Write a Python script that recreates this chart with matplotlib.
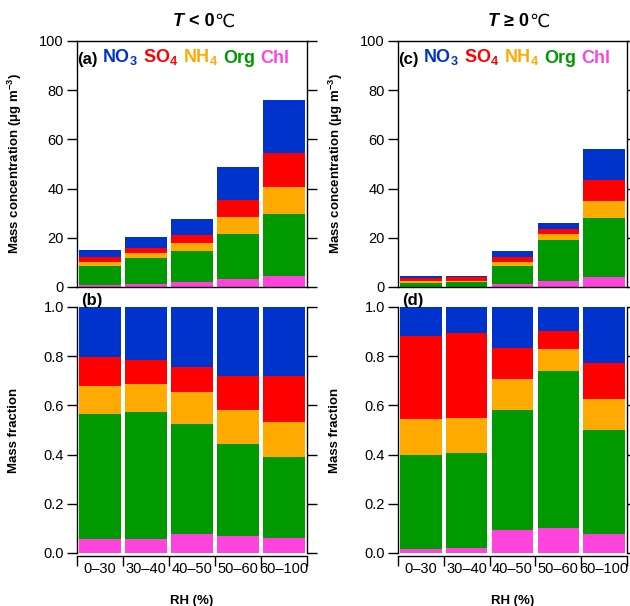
import matplotlib
matplotlib.use("Agg")
import matplotlib.pyplot as plt
import numpy as np

plt.rcParams['font.family'] = ['Liberation Sans', 'DejaVu Sans']
plt.rcParams['mathtext.fontset'] = 'custom'
plt.rcParams['mathtext.rm'] = 'Liberation Sans'
plt.rcParams['mathtext.bf'] = 'Liberation Sans:bold'
plt.rcParams['mathtext.it'] = 'Liberation Sans:italic'

categories = ["0\u201330", "30\u201340", "40\u201350", "50\u201360", "60\u2013100"]
species = ["Chl", "Org", "NH4", "SO4", "NO3"]  # bottom to top
colors = {"NO3": "#0033CC", "SO4": "#FF0000", "NH4": "#FFAA00", "Org": "#009900", "Chl": "#FF44DD"}

# Mass concentration (ug m-3), T < 0 C
cold_Chl = [0.7, 1.2, 2.2, 3.4, 4.5]
cold_Org = [8.0, 10.5, 12.4, 18.3, 25.2]
cold_NH4 = [1.5, 2.3, 3.4, 6.8, 11.0]
cold_SO4 = [1.9, 2.0, 3.0, 6.7, 13.9]
cold_NO3 = [2.9, 4.2, 6.6, 13.4, 21.4]

# Mass concentration, T >= 0 C
warm_Chl = [0.08, 0.10, 1.35, 2.4, 4.2]
warm_Org = [1.64, 1.76, 7.35, 16.8, 23.7]
warm_NH4 = [0.62, 0.67, 1.6, 2.3, 7.2]
warm_SO4 = [1.46, 1.60, 1.9, 1.9, 8.4]
warm_NO3 = [0.50, 0.47, 2.4, 2.5, 12.6]

# Mass fraction, T < 0 C
coldf_Chl = [0.058, 0.058, 0.079, 0.068, 0.060]
coldf_Org = [0.506, 0.515, 0.447, 0.375, 0.332]
coldf_NH4 = [0.115, 0.114, 0.127, 0.138, 0.142]
coldf_SO4 = [0.119, 0.098, 0.104, 0.139, 0.186]
coldf_NO3 = [0.202, 0.215, 0.243, 0.280, 0.280]

# Mass fraction, T >= 0 C
warmf_Chl = [0.018, 0.022, 0.095, 0.102, 0.077]
warmf_Org = [0.380, 0.383, 0.488, 0.639, 0.422]
warmf_NH4 = [0.145, 0.145, 0.123, 0.088, 0.126]
warmf_SO4 = [0.340, 0.346, 0.129, 0.075, 0.149]
warmf_NO3 = [0.117, 0.104, 0.165, 0.096, 0.226]

cold = {"Chl": cold_Chl, "Org": cold_Org, "NH4": cold_NH4, "SO4": cold_SO4, "NO3": cold_NO3}
warm = {"Chl": warm_Chl, "Org": warm_Org, "NH4": warm_NH4, "SO4": warm_SO4, "NO3": warm_NO3}
coldf = {"Chl": coldf_Chl, "Org": coldf_Org, "NH4": coldf_NH4, "SO4": coldf_SO4, "NO3": coldf_NO3}
warmf = {"Chl": warmf_Chl, "Org": warmf_Org, "NH4": warmf_NH4, "SO4": warmf_SO4, "NO3": warmf_NO3}

W, H = 630, 606
fig = plt.figure(figsize=(W / 100, H / 100), dpi=100)

def rect(l, r, t, b):
    return [l / W, 1 - b / H, (r - l) / W, (b - t) / H]

axA = fig.add_axes(rect(77, 307, 41, 287))
axB = fig.add_axes(rect(77, 307, 307, 553))
axC = fig.add_axes(rect(398, 627, 41, 287))
axD = fig.add_axes(rect(398, 627, 307, 553))

x = np.arange(len(categories))

def stack(ax, data):
    bottom = np.zeros(len(categories))
    for sp in species:
        vals = np.array(data[sp], dtype=float)
        ax.bar(x, vals, bottom=bottom, width=0.9, color=colors[sp], linewidth=0)
        bottom += vals

TICK_FS = 10.5
TLEN = 7.5
for ax, data in [(axA, cold), (axC, warm)]:
    stack(ax, data)
    ax.set_xlim(-0.5, 4.5)
    ax.set_ylim(0, 100)
    ax.set_yticks([0, 20, 40, 60, 80, 100])
    ax.tick_params(axis='y', which='major', direction='out', length=TLEN, width=1,
                   left=True, right=True, labelsize=TICK_FS, pad=2)
    ax.tick_params(axis='x', bottom=False, labelbottom=False)
    for s in ax.spines.values():
        s.set_linewidth(1)
    ax.set_ylabel("Mass concentration (\u03bcg m$^{\\mathbf{-3}}$)", fontsize=9.5, fontweight='bold')
    ax.yaxis.set_label_coords(-(77 - 24) / 230, 0.5)

for ax, data in [(axB, coldf), (axD, warmf)]:
    stack(ax, data)
    ax.set_xlim(-0.5, 4.5)
    ax.set_ylim(0, 1.0)
    ax.set_yticks([0.0, 0.2, 0.4, 0.6, 0.8, 1.0])
    ax.set_yticklabels(["%.1f" % v for v in [0.0, 0.2, 0.4, 0.6, 0.8, 1.0]])
    ax.tick_params(axis='y', which='major', direction='out', length=TLEN, width=1,
                   left=True, right=True, labelsize=TICK_FS, pad=2)
    ax.spines['top'].set_visible(False)
    ax.spines['bottom'].set_position(('outward', 2.5))
    for s in ax.spines.values():
        s.set_linewidth(1)
    ax.set_xticks(np.arange(-0.5, 5, 1.0))
    ax.set_xticklabels([])
    ax.set_xticks(x, minor=True)
    ax.set_xticklabels(categories, minor=True)
    ax.tick_params(axis='x', which='major', direction='out', length=TLEN, width=1)
    ax.tick_params(axis='x', which='minor', length=0, labelsize=TICK_FS, pad=4)
    ax.set_ylabel("Mass fraction", fontsize=9.5, fontweight='bold')
    ax.yaxis.set_label_coords(-(77 - 20) / 230, 0.5)
    ax.set_xlabel("RH (%)", fontsize=9.5, fontweight='bold', labelpad=14)

# panel letters and legends
def legend_line(ax, letter):
    t = ax.text(0.0, 0.925, letter, transform=ax.transAxes, fontsize=12,
                fontweight='bold', ha='left', va='center', color='black')
    prev = t
    labels = [("NO3", "NO$_\\mathbf{3}$"), ("SO4", "SO$_\\mathbf{4}$"),
              ("NH4", "NH$_\\mathbf{4}$"), ("Org", "Org"), ("Chl", "Chl")]
    for key, lab in labels:
        prev = ax.annotate(lab, xy=(1, 0), xycoords=prev, xytext=(3.5, 0),
                           textcoords='offset points', fontsize=13, fontweight='bold',
                           color=colors[key], ha='left', va='bottom')

legend_line(axA, "(a)")
legend_line(axC, "(c)")
axB.text(0.017, 1.028, "(b)", transform=axB.transAxes, fontsize=12, fontweight='bold',
         ha='left', va='center')
axD.text(0.017, 1.028, "(d)", transform=axD.transAxes, fontsize=12, fontweight='bold',
         ha='left', va='center')

# titles
def title(xpix, rel):
    t = fig.text(xpix / W, 1 - 22 / H, "T", fontsize=13, fontweight='bold',
                 style='italic', ha='left', va='center')
    a = fig.add_artist(plt.Annotation(" " + rel + " 0", xy=(1, 0), xycoords=t,
                                      fontsize=13, fontweight='bold', ha='left', va='bottom'))
    fig.add_artist(plt.Annotation("\u2103", xy=(1, 0), xycoords=a,
                                  fontsize=13, ha='left', va='bottom',
                                  family=['DejaVu Sans']))

title(173, "<")
title(488, "\u2265")

fig.savefig("out.png", dpi=100)
